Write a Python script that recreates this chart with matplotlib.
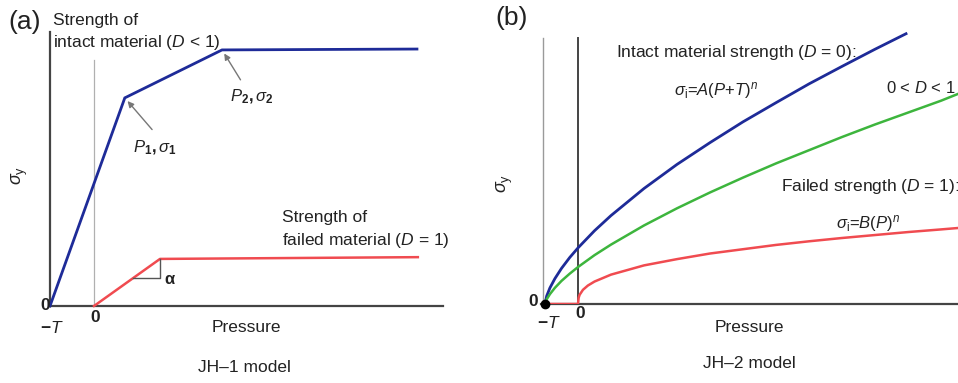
import numpy as np
import matplotlib.pyplot as plt

plt.rcParams['font.family'] = ['Liberation Sans', 'DejaVu Sans']
plt.rcParams['mathtext.fontset'] = 'custom'
plt.rcParams['mathtext.rm'] = 'Liberation Sans'
plt.rcParams['mathtext.it'] = 'Liberation Sans:italic'
plt.rcParams['mathtext.bf'] = 'Liberation Sans:bold'

# ---- JH-1 (pressure in units of T) ----
jh1_intact_p = [-1.0, 0.70, 2.91, 7.34]
jh1_intact_s = [0.0, 4.73, 5.82, 5.84]
jh1_failed_p = [0.0, 1.50, 7.36]
jh1_failed_s = [0.0, 1.07, 1.11]
p1 = (0.70, 4.73)
p2 = (2.91, 5.82)
slope_p = [0.886, 1.50, 1.50]
slope_s = [0.636, 0.636, 1.07]

# ---- JH-2 ----
jh2_p = [-1.0, -0.95, -0.85, -0.7, -0.5, -0.25, 0.0, 0.5, 1, 2, 3, 4, 5, 6, 7, 8, 9, 9.94]
jh2_intact = [0.0, 0.24, 0.49, 0.77, 1.08, 1.41, 1.70, 2.22, 2.68, 3.50, 4.23, 4.89,
              5.52, 6.10, 6.67, 7.20, 7.72, 8.19]
jh2_mid_p = [-1.0, -0.95, -0.85, -0.7, -0.5, -0.25, 0.0, 0.5, 1, 2, 3, 4, 5, 6, 7, 8, 9, 10, 11, 11.6]
jh2_mid = [0.0, 0.14, 0.30, 0.49, 0.70, 0.92, 1.12, 1.48, 1.80, 2.38, 2.90, 3.38, 3.83,
           4.26, 4.66, 5.06, 5.44, 5.80, 6.16, 6.40]
jh2_failed_p = [-1.0, 0.0, 0.02, 0.05, 0.15, 0.3, 0.5, 1, 2, 3, 4, 5, 6, 7, 8, 9, 10, 11, 11.6]
jh2_failed = [0.0, 0.0, 0.19, 0.28, 0.43, 0.56, 0.68, 0.89, 1.17, 1.36, 1.53, 1.66, 1.79,
              1.90, 2.00, 2.09, 2.18, 2.26, 2.31]

W, H = 958, 383
fig = plt.figure(figsize=(W / 100, H / 100), dpi=100)

def box(l, t, r, b):
    return [l / W, 1 - b / H, (r - l) / W, (b - t) / H]

def ftext(x, y, s, **kw):
    kw.setdefault('ha', 'left')
    kw.setdefault('va', 'center')
    kw.setdefault('fontsize', 12.5)
    fig.text(x / W, 1 - y / H, s, color='#222222', **kw)

blue = '#1e2b98'
red = '#f04b50'
green = '#3db53d'
axc = '#444444'

# panel (a)
ax1 = fig.add_axes(box(50, 30, 450, 306))
ax1.set_xlim(-1.0, (450 - 94) / 44)
ax1.set_ylim(0, (306 - 30) / 44)
ax1.axis('off')
ax1.plot([-1, -1], [0, 6.23], color=axc, lw=1.6, clip_on=False)
ax1.plot([0, 0], [0, 5.59], color='#b0b0b0', lw=0.9)
ax1.plot([-1, 7.93], [0, 0], color=axc, lw=1.6, clip_on=False)
ax1.plot(jh1_intact_p, jh1_intact_s, color=blue, lw=2.0, solid_joinstyle='miter', clip_on=False)
ax1.plot(jh1_failed_p, jh1_failed_s, color=red, lw=1.8, clip_on=False)
ax1.plot(slope_p, slope_s, color='#555555', lw=1.0)
ax1.annotate('', xy=p1, xytext=(p1[0] + 0.62, p1[1] - 0.72),
             arrowprops=dict(arrowstyle='-|>', color='#777777', lw=1.0, mutation_scale=9,
                             shrinkA=0, shrinkB=3))
ax1.annotate('', xy=p2, xytext=(p2[0] + 0.42, p2[1] - 0.68),
             arrowprops=dict(arrowstyle='-|>', color='#777777', lw=1.0, mutation_scale=9,
                             shrinkA=0, shrinkB=3))

ftext(8, 22, '(a)', fontsize=19)
ftext(53, 21, 'Strength of')
ftext(53, 42, 'intact material ($\\mathit{D}$ < 1)')
ftext(133, 148, '$\\mathbf{\\mathit{P}_1,\\mathit{\\sigma}_1}$', fontsize=12)
ftext(230, 97, '$\\mathbf{\\mathit{P}_2,\\mathit{\\sigma}_2}$', fontsize=12)
ftext(282, 218, 'Strength of')
ftext(282, 240, 'failed material ($\\mathit{D}$ = 1)')
ftext(164, 280, '$\\mathbf{\\alpha}$', fontsize=12)
ftext(45, 306, '0', ha='center', fontsize=12.5, fontweight='bold')
ftext(52, 328, '$\\mathbf{-\\mathit{T}}$', ha='center', fontsize=12.5)
ftext(95, 318, '0', ha='center', fontsize=12.5, fontweight='bold')
ftext(246, 328, 'Pressure', ha='center')
ftext(244, 367, 'JH–1 model', ha='center')
ftext(20, 175, '$\\mathit{\\sigma}_\\mathrm{y}$', ha='center', rotation=90, fontsize=13)

# panel (b)
ax2 = fig.add_axes(box(541, 30, 958, 304))
ax2.set_xlim((541 - 578) / 33, (958 - 578) / 33)
ax2.set_ylim(0, (304 - 30) / 33)
ax2.axis('off')
ax2.plot([-1.06, -1.06], [0, 8.06], color='#9a9a9a', lw=1.0)
ax2.plot([0, 0], [0, 8.06], color=axc, lw=1.4)
ax2.plot([-1.12, 11.52], [0, 0], color=axc, lw=1.6, clip_on=False)
ax2.plot(jh2_p, jh2_intact, color=blue, lw=2.0, clip_on=False)
ax2.plot(jh2_mid_p, jh2_mid, color=green, lw=1.8)
ax2.plot(jh2_failed_p, jh2_failed, color=red, lw=1.8)
ax2.plot([-1.0], [0.0], 'o', color='black', ms=6, clip_on=False)

ftext(495, 18, '(b)', fontsize=19)
ftext(616, 52, 'Intact material strength ($\\mathit{D}$ = 0):')
ftext(674, 90, '$\\mathit{\\sigma}_\\mathrm{i}$=$\\mathit{A}$($\\mathit{P}$+$\\mathit{T}$)$^\\mathit{n}$',
      fontsize=12)
ftext(886, 88, '0 < $\\mathit{D}$ < 1', fontsize=12)
ftext(781, 186, 'Failed strength ($\\mathit{D}$ = 1):')
ftext(836, 224, '$\\mathit{\\sigma}_\\mathrm{i}$=$\\mathit{B}$($\\mathit{P}$)$^\\mathit{n}$',
      fontsize=12)
ftext(533, 302, '0', ha='center', fontsize=12.5, fontweight='bold')
ftext(549, 323, '$\\mathbf{-\\mathit{T}}$', ha='center', fontsize=12.5)
ftext(580, 314, '0', ha='center', fontsize=12.5, fontweight='bold')
ftext(749, 327, 'Pressure', ha='center')
ftext(749, 363, 'JH–2 model', ha='center')
ftext(505, 183, '$\\mathit{\\sigma}_\\mathrm{y}$', ha='center', rotation=90, fontsize=13)

fig.savefig('out.png', dpi=100)
